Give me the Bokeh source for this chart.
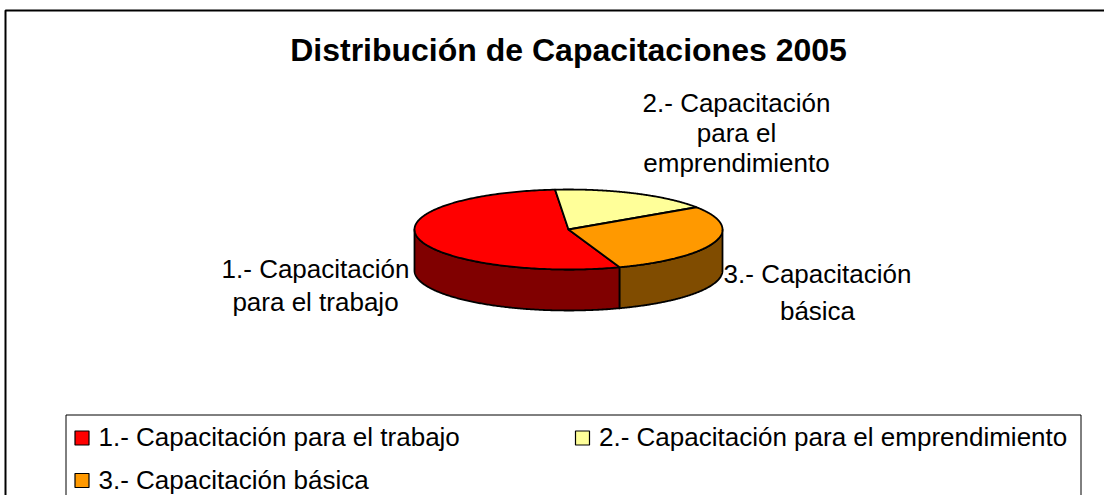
import numpy as np
from bokeh.plotting import figure
from bokeh.models import Range1d
from bokeh.embed import file_html
from bokeh.resources import INLINE
from bokeh.core.properties import value

# ---------------- data ----------------
title = "Distribución de Capacitaciones 2005"
categories = [
    "1.- Capacitación para el trabajo",
    "2.- Capacitación para el emprendimiento",
    "3.- Capacitación básica",
]
slice_labels = [
    ["1.- Capacitación", "para el trabajo"],
    ["2.- Capacitación", "para el", "emprendimiento"],
    ["3.- Capacitación", "básica"],
]
shares = [54, 17, 29]
top_colors = ["#FF0000", "#FFFF99", "#FF9900"]
side_colors = ["#800000", "#80804C", "#804C00"]

# ---------------- layout ----------------
W, H = 1104, 495
FONT = value("Liberation Sans")
p = figure(width=W, height=H, x_range=Range1d(0, W), y_range=Range1d(H, 0),
           output_backend="svg", toolbar_location=None, min_border=0)
p.axis.visible = False
p.grid.visible = False
p.outline_line_color = None
p.background_fill_color = "white"
p.border_fill_color = "white"

# outer chart border (continues beyond the visible area)
p.quad(left=[5], right=[3000], top=[10], bottom=[3000], fill_color=None,
       line_color="black", line_width=2)

# title
p.text(x=[568], y=[49], text=[title], text_font=FONT, text_font_size="32px",
       text_font_style="bold", text_align="center", text_baseline="alphabetic",
       text_color="black")

# ---------------- 3D pie ----------------
cx, cy = 568, 229
ra, rb = 154, 40
depth = 41
start = 160.6

vals = np.array(shares, dtype=float)
edges = start + 360 * np.concatenate([[0], np.cumsum(vals)]) / vals.sum()


def pt(th):
    t = np.radians(th)
    return cx + ra * np.sin(t), cy - rb * np.cos(t)


side_xs, side_ys, side_cols = [], [], []
top_xs, top_ys = [], []
for i in range(len(vals)):
    th0, th1 = edges[i], edges[i + 1]
    th = np.linspace(th0, th1, 200)
    x, y = pt(th)
    top_xs.append([cx] + list(x))
    top_ys.append([cy] + list(y))
    for k in (-360, 0, 360):
        lo, hi = max(th0, 90 + k), min(th1, 270 + k)
        if hi > lo:
            t = np.linspace(lo, hi, 200)
            sx, sy = pt(t)
            side_xs.append(list(sx) + list(sx[::-1]))
            side_ys.append(list(sy) + list((sy + depth)[::-1]))
            side_cols.append(side_colors[i])

p.patches(xs=side_xs, ys=side_ys, fill_color=side_cols, line_color="black",
          line_width=1.8, line_join="round")
p.patches(xs=top_xs, ys=top_ys, fill_color=top_colors, line_color="black",
          line_width=1.8, line_join="round")

# slice labels
label_pos = [(315, [268, 301]), (736, [102, 132, 162]), (817, [273, 310])]
lx, ly, lt = [], [], []
for lines, (x0, ys) in zip(slice_labels, label_pos):
    for line, yy in zip(lines, ys):
        lx.append(x0)
        ly.append(yy)
        lt.append(line)
p.text(x=lx, y=ly, text=lt, text_font=FONT, text_font_size="26px",
       text_align="center", text_baseline="alphabetic", text_color="black")

# ---------------- legend ----------------
p.quad(left=[65.5], right=[1080.5], top=[414.5], bottom=[3000], fill_color=None,
       line_color="black", line_width=1)
col_x = [81.5, 582]
row_y = [437.5, 480]
slots = [(0, 0), (1, 0), (0, 1)]
mx = [col_x[c] for c, r in slots]
my = [row_y[r] for c, r in slots]
p.scatter(x=mx, y=my, marker="square", size=14, fill_color=top_colors,
          line_color="black", line_width=1.2)
p.text(x=[v + 16.5 for v in mx], y=[v - 1 for v in my], text=categories,
       text_font=FONT, text_font_size="26px", text_align="left",
       text_baseline="alphabetic", text_color="black")

open("out.html", "w").write(file_html(p, INLINE))
